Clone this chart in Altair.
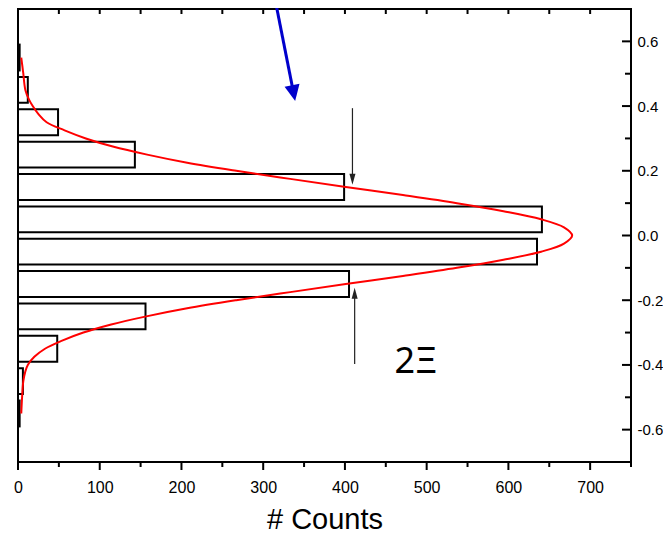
import altair as alt
import pandas as pd

# ---- histogram (bin centre on the vertical value axis, counts horizontally)
bin_centers = [0.55, 0.45, 0.35, 0.25, 0.15, 0.05, -0.05, -0.15, -0.25, -0.35, -0.45, -0.55]
bin_counts = [2, 12, 49, 143, 399, 641, 635, 405, 156, 48, 6, 2]
bin_half = 0.04

# ---- fitted red curve
curve_values = [0.55, 0.52, 0.50, 0.45, 0.42, 0.40, 0.375, 0.35, 0.325, 0.30, 0.275, 0.25,
                0.225, 0.20, 0.175, 0.15, 0.125, 0.10, 0.075, 0.05, 0.025, 0.0,
                -0.025, -0.05, -0.075, -0.10, -0.125, -0.15, -0.175, -0.20, -0.225, -0.25,
                -0.275, -0.30, -0.325, -0.35, -0.375, -0.40, -0.42, -0.45, -0.50, -0.55]
curve_counts = [4, 5.5, 6.5, 9, 13.5, 18, 25, 35, 57, 83, 116, 158,
                207, 267, 333, 401, 471, 537, 594, 640, 668, 678,
                668, 640, 594, 537, 471, 401, 333, 267, 207, 157,
                114, 80, 54, 33, 20, 12, 9, 6.5, 5, 4]

# ---- axis ticks
x_major = [0, 100, 200, 300, 400, 500, 600, 700]
x_minor = [50, 150, 250, 350, 450, 550, 650, 750]
y_major = [-0.6, -0.4, -0.2, 0, 0.2, 0.4, 0.6]
y_minor = [-0.5, -0.3, -0.1, 0.1, 0.3, 0.5]

W, H = 613, 453
FONT = "Liberation Sans"

xscale = alt.Scale(domain=[0, 750], nice=False, zero=False)
yscale = alt.Scale(domain=[-0.7, 0.7], nice=False, zero=False)
xaxis = alt.Axis(values=x_major, format="d", ticks=False, domain=False, grid=False,
                 labelPadding=17, labelFont=FONT, labelFontSize=16, labelColor="black",
                 labelFlush=False, title="# Counts", titleFont=FONT, titleFontSize=29,
                 titleFontWeight="normal", titleColor="black", titleBaseline="alphabetic",
                 titleY=66)
yaxis = alt.Axis(orient="right", values=y_major,
                 labelExpr="(datum.value < 0 ? '-' : '') + format(abs(datum.value), '.1f')",
                 ticks=False, domain=False, grid=False, labelPadding=6, labelFont=FONT,
                 labelFontSize=15, labelColor="black", labelFlush=False, title="")


def X(f):
    return alt.X(f, type="quantitative", scale=xscale, axis=xaxis)


def Y(f):
    return alt.Y(f, type="quantitative", scale=yscale, axis=yaxis)


def XD(v):
    return alt.XDatum(v, type="quantitative", scale=xscale, axis=xaxis)


def YD(v):
    return alt.YDatum(v, type="quantitative", scale=yscale, axis=yaxis)


bars_df = pd.DataFrame({"center": bin_centers, "count": bin_counts})
bars_df["lo"] = bars_df["center"] - bin_half
bars_df["hi"] = bars_df["center"] + bin_half

curve_df = pd.DataFrame({"value": curve_values, "count": curve_counts,
                         "idx": list(range(len(curve_values)))})

one = pd.DataFrame({"k": [0]})

bars = alt.Chart(bars_df).mark_rect(fill="white", stroke="black", strokeWidth=2).encode(
    x=X("count"), x2=alt.X2Datum(0), y=Y("lo"), y2="hi:Q")

curve = alt.Chart(curve_df).mark_line(color="#ff0000", strokeWidth=2,
                                      interpolate="catmull-rom").encode(
    x=X("count"), y=Y("value"), order=alt.Order("idx:Q"))

tick_style = dict(color="black", strokeWidth=2)
bot_major = alt.Chart(pd.DataFrame({"t": x_major})).mark_rule(**tick_style).encode(
    x=X("t"), y=alt.value(H), y2=alt.value(H + 8))
bot_minor = alt.Chart(pd.DataFrame({"t": x_minor})).mark_rule(**tick_style).encode(
    x=X("t"), y=alt.value(H), y2=alt.value(H + 5))
top_ticks = alt.Chart(pd.DataFrame({"t": x_major + x_minor})).mark_rule(**tick_style).encode(
    x=X("t"), y=alt.value(0), y2=alt.value(5))
right_major = alt.Chart(pd.DataFrame({"t": y_major})).mark_rule(**tick_style).encode(
    y=Y("t"), x=alt.value(W), x2=alt.value(W - 9))
right_minor = alt.Chart(pd.DataFrame({"t": y_minor})).mark_rule(**tick_style).encode(
    y=Y("t"), x=alt.value(W), x2=alt.value(W - 6))

# ---- annotations
blue = "#0000cc"
blue_shaft = alt.Chart(one).mark_rule(color=blue, strokeWidth=3).encode(
    x=XD(314.7), x2=alt.X2Datum(337.2), y=YD(0.7273), y2=alt.Y2Datum(0.440))
blue_head = alt.Chart(one).mark_point(shape="M0,1L-0.95,-1L0.95,-1Z", size=256, angle=348.8,
                                      filled=True, color=blue, opacity=1, strokeWidth=0).encode(
    x=XD(337.2), y=YD(0.440))

dark = "#222222"
top_shaft = alt.Chart(one).mark_rule(color=dark, strokeWidth=1.2).encode(
    x=XD(409.2), y=YD(0.3935), y2=alt.Y2Datum(0.174))
top_head = alt.Chart(one).mark_point(shape="M0,1L-0.55,-1L0.55,-1Z", size=121, angle=0,
                                     filled=True, color=dark, opacity=1, strokeWidth=0).encode(
    x=XD(409.2), y=YD(0.1741))
bot_shaft = alt.Chart(one).mark_rule(color=dark, strokeWidth=1.2).encode(
    x=XD(411.9), y=YD(-0.3975), y2=alt.Y2Datum(-0.178))
bot_head = alt.Chart(one).mark_point(shape="M0,1L-0.55,-1L0.55,-1Z", size=121, angle=180,
                                     filled=True, color=dark, opacity=1, strokeWidth=0).encode(
    x=XD(411.9), y=YD(-0.1781))

label = alt.Chart(one).mark_text(text="2Ξ", font="Noto Sans", fontSize=36, color="black",
                                 align="center", baseline="alphabetic").encode(
    x=XD(487), y=YD(-0.426))

chart = alt.layer(
    bars, curve, bot_major, bot_minor, top_ticks, right_major, right_minor,
    top_shaft, top_head, bot_shaft, bot_head, blue_shaft, blue_head, label
).properties(
    width=W, height=H,
    autosize=alt.AutoSizeParams(type="none"),
    padding={"left": 10, "top": 1, "right": 32, "bottom": 74},
    background="white",
).configure_view(stroke="black", strokeWidth=2)

chart.save("out.html", embed_options={"renderer": "svg", "actions": False})
